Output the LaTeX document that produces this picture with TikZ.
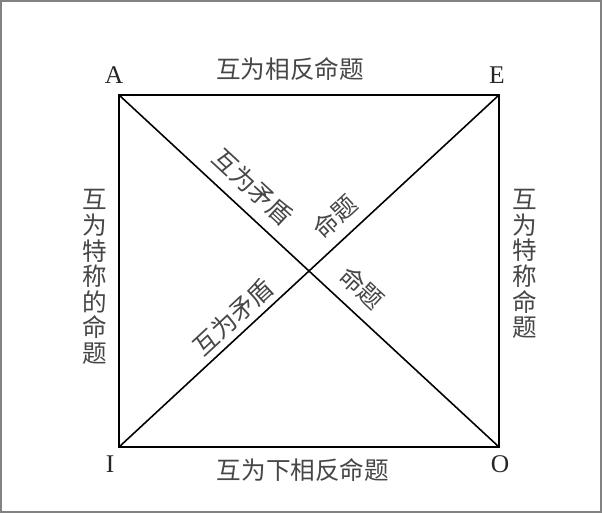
\documentclass[tikz,border=0pt]{standalone}
\usepackage{fontspec}
\setmainfont{Liberation Serif}
\newfontfamily\cjk{Noto Sans CJK SC}
\definecolor{labelgray}{RGB}{70,70,70}
\definecolor{framegray}{RGB}{130,130,130}
\tikzset{
  vertex/.style={font=\fontsize{14.5pt}{14.5pt}\selectfont, text=black!85, inner sep=0pt},
  relation/.style={font=\fontsize{14pt}{14.6pt}\selectfont\cjk, text=labelgray, inner sep=0pt},
  stacked/.style={relation, align=center}
}
\begin{document}
\begin{tikzpicture}[x=0.02cm,y=-0.02cm]
  \useasboundingbox (0,0) rectangle (602,513);
  \draw[framegray, line width=1.2pt] (1,1) rectangle (601,512);

  % Corners of the square
  \coordinate (A) at (119,95);
  \coordinate (E) at (499,95);
  \coordinate (I) at (119,447);
  \coordinate (O) at (499,447);

  % Corner letters
  \node[vertex] (la) at (114,75) {A};
  \node[vertex] (le) at (497,75) {E};
  \node[vertex] (li) at (110,464) {I};
  \node[vertex] (lo) at (500,464) {O};

  % Sides
  \node[relation] (top) at (290,69) {互为相反命题};
  \node[relation] (bottom) at (303,470) {互为下相反命题};
  \node[stacked] (left) at (95,277) {互\\为\\特\\称\\的\\命\\题};
  \node[stacked] (right) at (525,264) {互\\为\\特\\称\\命\\题};

  % Diagonals
  \node[relation, rotate=-42.8] (ao1) at (253,187) {互为矛盾};
  \node[relation, rotate=-42.8] (ao2) at (362,288) {命题};
  \node[relation, rotate=42.8] (ei1) at (233,317) {互为矛盾};
  \node[relation, rotate=42.8] (ei2) at (335,217) {命题};

  % Draw edges
  \draw[line width=1.1pt] (A) -- (E) -- (O) -- (I) -- cycle;
  \draw[line width=0.9pt] (A) -- (O);
  \draw[line width=0.9pt] (E) -- (I);
\end{tikzpicture}
\end{document}
